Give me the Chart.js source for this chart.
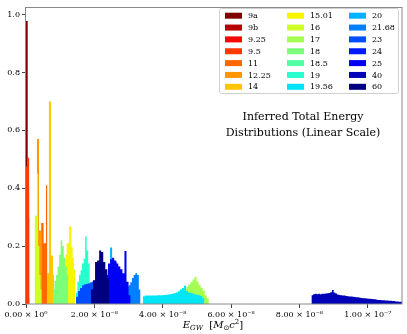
<!DOCTYPE html>
<html>
<head>
<meta charset="utf-8">
<script src="https://cdn.jsdelivr.net/npm/chart.js@4/dist/chart.umd.min.js"></script>
<style>
  html, body { margin: 0; padding: 0; background: #fff; }
  #wrap { width: 407px; height: 334px; }
</style>
</head>
<body>
<div id="wrap"><canvas id="c" width="407" height="334"></canvas></div>
<script>
// ---- Data (energies in units of 1e-9 Msun c^2, normalised histogram heights) ----
const seriesLabels = ['9a','9b','9.25','9.5','11','12.25','14','15.01','16','17','18','18.5','19','19.56','20','21.68','23','24','25','40','60'];
const binStarts = [0.0, 0.05, 0.1, 0.0, 4.1, 2.9, 6.1, 11.2, 2.5, 42.7, 7.9, 15.0, 14.6, 34.2, 22.8, 28.0, 14.6, 23.0, 23.4, 83.5, 19.0];
const binWidths = [0.5, 0.3, 0.3, 0.33, 0.35, 0.3, 0.3, 0.35, 0.35, 0.6, 0.45, 0.5, 0.45, 0.6, 0.6, 0.5, 0.6, 0.7, 0.6, 0.5, 0.6];

const c9a   = [0.978, 0.02];
const c9b   = [0.3, 0.45, 0.4];
const c9_25 = [0.2, 0.4, 0.3];
const c9_5  = [0.475, 0.505, 0.505];
const c11   = [0.1, 0.28, 0.28, 0.21, 0.21, 0.41, 0.05];
const c12_25 = [0.1, 0.57, 0.57, 0.254, 0.254, 0.1];
const c14   = [0.107, 0.107, 0.70, 0.70, 0.168, 0.168, 0.1, 0.05];
const c15_01 = [0.13, 0.17, 0.21, 0.21, 0.268, 0.268, 0.197, 0.16, 0.12];
const c16   = [0.305, 0.305, 0.45, 0.2, 0.1, 0.05];
const c17   = [0.033, 0.036, 0.038, 0.04, 0.045, 0.048, 0.052, 0.06, 0.068, 0.075, 0.085, 0.094, 0.078, 0.066, 0.056, 0.046, 0.03, 0.02];
const c18   = [0.05, 0.08, 0.1, 0.13, 0.17, 0.22, 0.2, 0.16, 0.13, 0.1];
const c18_5 = [0.04, 0.07, 0.1, 0.13, 0.15, 0.12, 0.08];
const c19   = [0.04, 0.077, 0.1, 0.117, 0.14, 0.157, 0.233, 0.185, 0.14, 0.06];
const c19_56 = [0.027, 0.029, 0.029, 0.029, 0.029, 0.029, 0.029, 0.03, 0.03, 0.03, 0.031, 0.032, 0.033, 0.034, 0.035, 0.037, 0.04, 0.044, 0.05, 0.055, 0.063, 0.045, 0.04, 0.038, 0.036, 0.034, 0.032, 0.03, 0.028, 0.02];
const c20   = [0.03, 0.06, 0.1, 0.195, 0.15, 0.08, 0.04];
const c21_68 = [0.03, 0.04, 0.05, 0.06, 0.065, 0.075, 0.09, 0.1, 0.106, 0.1, 0.05];
const c23   = [0.025, 0.045, 0.055, 0.065, 0.068, 0.07, 0.072, 0.075, 0.078, 0.08, 0.085, 0.09, 0.1, 0.11, 0.1, 0.08, 0.05, 0.03, 0.02];
const c24   = [0.05, 0.09, 0.12, 0.14, 0.145, 0.13, 0.11, 0.09, 0.05];
const c25   = [0.1, 0.14, 0.155, 0.16, 0.15, 0.14, 0.13, 0.12, 0.106, 0.183, 0.077, 0.03];
const c40   = [0.03, 0.034, 0.035, 0.034, 0.035, 0.034, 0.035, 0.035, 0.036, 0.037, 0.038, 0.041, 0.048, 0.04, 0.036, 0.033, 0.031,
               0.030, 0.029, 0.029, 0.028, 0.027, 0.026, 0.026, 0.025, 0.024, 0.023, 0.023, 0.022, 0.021, 0.02, 0.02, 0.019, 0.018, 0.018,
               0.017, 0.016, 0.016, 0.015, 0.014, 0.014, 0.013, 0.013, 0.012, 0.012, 0.011, 0.011, 0.01, 0.01, 0.009, 0.009, 0.008, 0.008];
const c60   = [0.05, 0.082, 0.145, 0.15, 0.185, 0.18, 0.145, 0.12, 0.089];

const seriesCounts = [c9a, c9b, c9_25, c9_5, c11, c12_25, c14, c15_01, c16, c17, c18, c18_5, c19, c19_56, c20, c21_68, c23, c24, c25, c40, c60];

const xTickValues = [0, 20, 40, 60, 80, 100];
const yTickValues = [0, 0.2, 0.4, 0.6, 0.8, 1.0];

// ---- Styles ----
const colors = ['rgb(128,0,0)','rgb(185,0,0)','rgb(244,9,0)','rgb(255,57,0)','rgb(255,104,0)','rgb(255,151,0)','rgb(255,198,0)',
  'rgb(247,246,0)','rgb(206,255,41)','rgb(164,255,82)','rgb(123,255,123)','rgb(82,255,164)','rgb(41,255,206)','rgb(0,230,247)',
  'rgb(0,179,255)','rgb(0,128,255)','rgb(0,77,255)','rgb(0,26,255)','rgb(0,0,244)','rgb(0,0,185)','rgb(0,0,128)'];

const serif = 'DejaVu Serif';

function histPoints(start, width, counts) {
  const pts = [];
  counts.forEach((c, k) => pts.push({ x: start + k * width, y: c }));
  pts.push({ x: start + counts.length * width, y: 0 });
  return pts;
}

const datasets = seriesLabels.map((lab, i) => ({
  label: lab,
  data: histPoints(binStarts[i], binWidths[i], seriesCounts[i]),
  stepped: true,
  fill: 'origin',
  backgroundColor: colors[i],
  borderColor: 'rgba(0,0,0,0)',
  borderWidth: 0,
  pointRadius: 0,
  pointHoverRadius: 0,
  order: seriesLabels.length - i
}));

const supMap = {'-':'⁻','0':'⁰','1':'¹','2':'²','3':'³','4':'⁴','5':'⁵','6':'⁶','7':'⁷','8':'⁸','9':'⁹'};
function sciLabel(v) {
  const val = v * 1e-9;
  if (val === 0) return '0.00 × 10⁰';
  let e = Math.floor(Math.log10(Math.abs(val)) + 1e-9);
  const m = val / Math.pow(10, e);
  const es = String(e).split('').map(ch => supMap[ch]).join('');
  return m.toFixed(2) + ' × 10' + es;
}

const overlay = {
  id: 'overlay',
  afterDraw(chart) {
    const { ctx, chartArea: a } = chart;
    ctx.save();
    // frame
    ctx.strokeStyle = '#888888';
    ctx.lineWidth = 1;
    ctx.strokeRect(Math.round(a.left) - 0.5, Math.round(a.top) + 0.5, Math.round(a.right - a.left) + 0.5, Math.round(a.bottom - a.top) - 0.5);

    // legend
    const bx = 219, by = 8, bw = 179, bh = 85;
    ctx.fillStyle = 'rgba(255,255,255,0.85)';
    ctx.strokeStyle = '#d0d0d0';
    ctx.beginPath();
    if (ctx.roundRect) ctx.roundRect(bx + 0.5, by + 0.5, bw, bh, 2); else ctx.rect(bx + 0.5, by + 0.5, bw, bh);
    ctx.fill(); ctx.stroke();
    const rows = 7;
    ctx.font = '8px ' + serif;
    ctx.textBaseline = 'middle';
    ctx.textAlign = 'left';
    chart.data.datasets.forEach((ds, i) => {
      const col = Math.floor(i / rows), r = i % rows;
      const sx = 225 + col * 62, sy = 15.7 + r * 11.85;
      ctx.fillStyle = ds.backgroundColor;
      ctx.fillRect(sx, sy - 3, 17, 6);
      ctx.fillStyle = '#000';
      ctx.fillText(ds.label, sx + 23, sy + 0.5);
    });

    // annotation
    ctx.font = '11px ' + serif;
    ctx.textAlign = 'center';
    ctx.fillStyle = '#000';
    ctx.fillText('Inferred Total Energy', 303, 117);
    ctx.fillText('Distributions (Linear Scale)', 303, 133);

    // x-axis title
    const parts = [
      { t: 'E', f: 'italic 10px ' + serif, dy: 0 },
      { t: 'GW', f: 'italic 7px ' + serif, dy: 2 },
      { t: '  [', f: '10px ' + serif, dy: 0 },
      { t: 'M', f: 'italic 10px ' + serif, dy: 0 },
      { t: '⊙', f: '7px DejaVu Sans', dy: 2 },
      { t: 'c', f: 'italic 10px ' + serif, dy: 0 },
      { t: '2', f: '7px ' + serif, dy: -4 },
      { t: ']', f: '10px ' + serif, dy: 0 }
    ];
    let total = 0;
    parts.forEach(p => { ctx.font = p.f; p.w = ctx.measureText(p.t).width; total += p.w; });
    let x = 213 - total / 2;
    ctx.textAlign = 'left';
    ctx.textBaseline = 'alphabetic';
    parts.forEach(p => { ctx.font = p.f; ctx.fillText(p.t, x, 328 + p.dy); x += p.w; });
    ctx.restore();
  }
};

new Chart(document.getElementById('c'), {
  type: 'line',
  data: { datasets },
  options: {
    responsive: false,
    animation: false,
    events: [],
    layout: { padding: { top: 5, right: 5, left: 0, bottom: 0 } },
    plugins: { legend: { display: false }, tooltip: { enabled: false } },
    elements: { line: { tension: 0 } },
    scales: {
      x: {
        type: 'linear', min: 0, max: 110,
        afterBuildTicks: s => { s.ticks = xTickValues.map(v => ({ value: v })); },
        afterFit: s => { s.height = 30; },
        ticks: { callback: v => sciLabel(v), font: { family: serif, size: 8 }, color: '#000', maxRotation: 0, autoSkip: false, padding: 2 },
        grid: { drawOnChartArea: false, drawTicks: true, tickLength: 4, color: '#444' },
        border: { display: false }
      },
      y: {
        min: 0, max: 1.027,
        afterBuildTicks: s => { s.ticks = yTickValues.map(v => ({ value: v })); },
        afterFit: s => { s.width = 26; },
        ticks: { callback: v => v.toFixed(1), font: { family: serif, size: 8 }, color: '#000', padding: 2 },
        grid: { drawOnChartArea: false, drawTicks: true, tickLength: 4, color: '#444' },
        border: { display: false }
      }
    }
  },
  plugins: [overlay]
});
</script>
</body>
</html>
